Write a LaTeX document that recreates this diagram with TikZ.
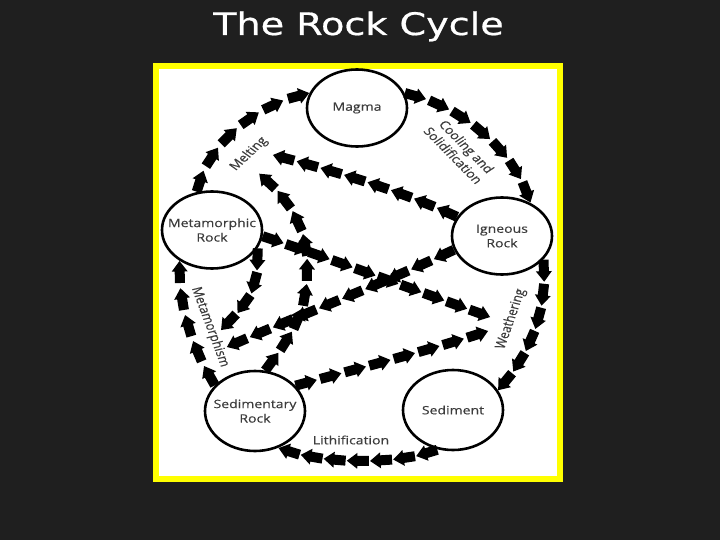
\documentclass[tikz,border=0pt]{standalone}
\usepackage{fontspec}
\usepackage{graphicx}
\usetikzlibrary{shapes.geometric,decorations.markings}
\newfontfamily\titlefont[FakeBold=0.6]{DejaVu Sans}
\newfontfamily\lblfont[FakeBold=0.4]{Open Sans}
\definecolor{bgdark}{RGB}{31,31,31}
\definecolor{frameyel}{RGB}{255,255,0}
\definecolor{lblgray}{RGB}{60,60,60}
\newcommand{\hs}[1]{\scalebox{1.22}[1]{#1}}
\tikzset{
  rock/.style={ellipse, draw=black, line width=2.6pt, minimum width=100pt, minimum height=77pt, inner sep=0pt},
  rocktext/.style={font=\lblfont\fontsize{11.5}{14.5}\selectfont, text=lblgray, align=center, inner sep=0pt},
  steplbl/.style={font=\lblfont\fontsize{11.5}{14}\selectfont, text=lblgray, align=center, inner sep=0pt, xscale=1.22},
  chev/.style={decorate, decoration={markings, mark=between positions 11pt and -10.5pt step (\pgfdecoratedpathlength-22pt)/round((\pgfdecoratedpathlength-22pt)/25pt) with {\fill[black] (-11,-5) -- (0.5,-5) -- (0.5,-8) -- (11,0) -- (0.5,8) -- (0.5,5) -- (-11,5) -- cycle;}}},
}
\begin{document}
\begin{tikzpicture}[x=1pt,y=-1pt]
\useasboundingbox (0,0) rectangle (720,540);
\fill[bgdark] (0,0) rectangle (720,540);
\node[font=\titlefont\fontsize{31}{36}\selectfont, text=white, anchor=base, xscale=1.23, inner sep=0pt] (title) at (358.5,35) {The Rock Cycle};
\fill[frameyel] (153,63) rectangle (563,482);
\fill[white] (159,69) rectangle (557,476);

\node[rock] (magma) at (357,108) {};
\node[rock] (meta) at (212,230) {};
\node[rock] (igneous) at (502,236) {};
\node[rock, minimum height=80pt] (sedrock) at (255,411) {};
\node[rock, minimum height=80pt] (sediment) at (453,410) {};

\node[rocktext] (magmaT) at (magma) {\hs{Magma}};
\node[rocktext] (metaT) at (meta) {\hs{Metamorphic}\\\hs{Rock}};
\node[rocktext] (igneousT) at (igneous) {\hs{Igneous}\\\hs{Rock}};
\node[rocktext] (sedrockT) at (sedrock) {\hs{Sedimentary}\\\hs{Rock}};
\node[rocktext] (sedimentT) at (sediment) {\hs{Sediment}};

\coordinate (melt1) at (273,155);
\coordinate (melt2) at (259,174);
\coordinate (bend7) at (307,265);
\coordinate (weath1) at (490,317);
\coordinate (weath2) at (488,331);
\coordinate (metam1) at (227,347);
\coordinate (metam2) at (221,330);

\path[chev] (meta.111) .. controls (205,150) and (250,105) .. (magma.163);
\path[chev] (magma.17) .. controls (460,105) and (515,150) .. (igneous.50);
\path[chev] (igneous.-30) .. controls (548,310) and (530,355) .. (sediment.24);
\path[chev] (sediment.248) .. controls (400,465) and (320,465) .. (sedrock.-57);
\path[chev] (sedrock.147) .. controls (190,345) and (178,300) .. (meta.224);
\path[chev] (igneous.157) .. controls (400,190) and (330,170) .. (melt1);
\path[chev] (sedrock.76) .. controls (300,325) and (307,305) .. (bend7) .. controls (307,225) and (285,195) .. (melt2);
\path[chev] (meta.-7) .. controls (340,262) and (420,292) .. (weath1);
\path[chev] (igneous.196) .. controls (380,285) and (300,315) .. (metam1);
\path[chev] (meta.-22) .. controls (258,290) and (250,300) .. (metam2);
\path[chev] (sedrock.32) .. controls (360,368) and (430,350) .. (weath2);

\node[steplbl, rotate=49] (melting) at (249,154) {Melting};
\node[steplbl, rotate=-51] (cooling) at (460,151) {Cooling and\\Solidification};
\node[steplbl, rotate=74] (weathering) at (511,319) {Weathering};
\node[steplbl, rotate=-73] (metamorphism) at (210,327) {Metamorphism};
\node[steplbl] (lithification) at (351,440) {Lithification};
\end{tikzpicture}
\end{document}
